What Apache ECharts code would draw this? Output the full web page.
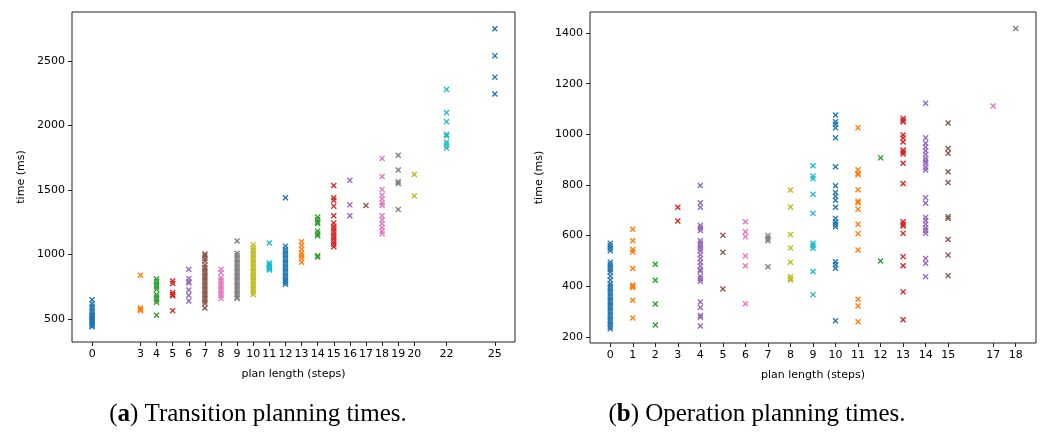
<!DOCTYPE html>
<html>
<head>
<meta charset="utf-8">
<script src="https://cdn.jsdelivr.net/npm/echarts@6/dist/echarts.min.js"></script>
<style>
  html, body { margin: 0; padding: 0; background: #fff; }
  #chart { width: 1042px; height: 432px; }
</style>
</head>
<body>
<div id="chart"></div>
<script>
// plot (a): transition planning
const transLengths = [0, 3, 4, 5, 6, 7, 8, 9, 10, 11, 12, 13, 14, 15, 16, 17, 18, 19, 20, 22, 25]
const transTimes = [
  [650, 620, 600, 580, 560, 540, 530, 520, 510, 500, 490, 480, 470, 460, 450, 440],
  [840, 585, 575, 565],
  [810, 790, 770, 750, 730, 690, 670, 650, 630, 530],
  [795, 775, 705, 690, 680, 565],
  [885, 815, 790, 780, 725, 685, 640],
  [1005, 990, 970, 950, 920, 900, 880, 860, 840, 820, 800, 780, 760, 740, 720, 700, 680, 660, 640, 620, 585],
  [885, 860, 820, 800, 780, 760, 740, 720, 700, 680, 660],
  [1105, 1010, 990, 970, 950, 930, 910, 890, 870, 850, 830, 810, 790, 770, 750, 730, 710, 690, 670, 660],
  [1075, 1050, 1030, 1010, 990, 970, 950, 930, 910, 890, 870, 850, 830, 810, 790, 770, 750, 730, 710, 690],
  [1090, 935, 920, 910, 900, 890, 880],
  [1440, 1065, 1040, 1020, 1000, 980, 960, 940, 920, 900, 880, 860, 840, 820, 800, 785, 770],
  [1100, 1070, 1040, 1010, 990, 970, 940],
  [1290, 1270, 1250, 1240, 1180, 1160, 1145, 990, 980],
  [1535, 1440, 1420, 1375, 1300, 1245, 1220, 1200, 1180, 1160, 1140, 1120, 1100, 1080, 1060],
  [1575, 1385, 1300],
  [1380],
  [1745, 1605, 1505, 1460, 1430, 1400, 1380, 1300, 1270, 1240, 1210, 1180, 1160],
  [1770, 1655, 1565, 1550, 1350],
  [1620, 1455],
  [2280, 2100, 2030, 1930, 1920, 1870, 1850, 1825],
  [2750, 2540, 2375, 2245]
]
const transYTicks = [500, 1000, 1500, 2000, 2500]

// plot (b): operation planning
const opLengths = [0, 1, 2, 3, 4, 5, 6, 7, 8, 9, 10, 11, 12, 13, 14, 15, 17, 18]
const opTimes = [
  [570, 560, 550, 540, 495, 485, 475, 465, 455, 440, 425, 410, 400, 390, 380, 370, 360, 350, 340, 330, 320, 310, 300, 290, 280, 270, 260, 250, 240, 232],
  [625, 580, 545, 535, 470, 405, 400, 395, 345, 275],
  [487, 424, 330, 247],
  [712, 658],
  [798, 730, 712, 640, 630, 620, 580, 570, 560, 550, 540, 525, 510, 495, 480, 465, 460, 440, 430, 420, 338, 316, 285, 278, 243],
  [601, 534, 389],
  [655, 615, 596, 520, 481, 331],
  [600, 590, 580, 477],
  [780, 713, 604, 551, 495, 438, 430, 425],
  [876, 835, 825, 763, 688, 570, 560, 550, 458, 367],
  [1076, 1050, 1040, 1026, 986, 872, 797, 770, 755, 740, 712, 668, 655, 645, 635, 497, 485, 471, 264],
  [1026, 860, 845, 840, 781, 736, 730, 704, 645, 608, 543, 349, 322, 260],
  [907, 500],
  [1063, 1055, 1049, 997, 985, 970, 938, 930, 922, 886, 806, 655, 645, 638, 609, 517, 481, 378, 268],
  [1123, 986, 965, 950, 935, 920, 905, 895, 885, 870, 859, 750, 728, 672, 660, 645, 630, 620, 609, 510, 491, 438],
  [1045, 944, 925, 852, 810, 675, 668, 585, 523, 442],
  [1112],
  [1418]
]
const opYTicks = [200, 400, 600, 800, 1000, 1200, 1400]

const tab10 = ['#1f77b4', '#ff7f0e', '#2ca02c', '#d62728', '#9467bd', '#8c564b', '#e377c2', '#7f7f7f', '#bcbd22', '#17becf']
// thick "x" marker like matplotlib's marker='x'
const cross = 'path://M0,1.6L1.6,0L5,3.4L8.4,0L10,1.6L6.6,5L10,8.4L8.4,10L5,6.6L1.6,10L0,8.4L3.4,5Z'
const labelFont = 'DejaVu Sans'

const makeSeries = (lengths, times, idx) => lengths.map((len, i) => ({
  type: 'scatter',
  xAxisIndex: idx,
  yAxisIndex: idx,
  symbol: cross,
  symbolSize: 6,
  itemStyle: { color: tab10[i % 10], opacity: 1 },
  silent: true,
  data: times[i].map(t => [len, t])
}))

const xAxisOf = (idx, min, max, ticks) => ({
  type: 'value',
  gridIndex: idx,
  min: min,
  max: max,
  name: 'plan length (steps)',
  nameLocation: 'middle',
  nameGap: 27,
  nameTextStyle: { fontFamily: labelFont, fontSize: 11, color: '#000' },
  axisLine: { show: false, onZero: false },
  axisTick: { show: true, length: 4, customValues: ticks, lineStyle: { color: '#222' } },
  axisLabel: { customValues: ticks, margin: 7, fontFamily: labelFont, fontSize: 11, color: '#000', formatter: v => String(v) },
  splitLine: { show: false }
})

const yAxisOf = (idx, min, max, ticks, gap) => ({
  type: 'value',
  gridIndex: idx,
  min: min,
  max: max,
  name: 'time (ms)',
  nameLocation: 'middle',
  nameGap: gap,
  nameTextStyle: { fontFamily: labelFont, fontSize: 11, color: '#000' },
  axisLine: { show: false, onZero: false },
  axisTick: { show: true, length: 4, customValues: ticks, lineStyle: { color: '#222' } },
  axisLabel: { customValues: ticks, margin: 7, fontFamily: labelFont, fontSize: 11, color: '#000', formatter: v => String(v) },
  splitLine: { show: false }
})

const chart = echarts.init(document.getElementById('chart'), null, { renderer: 'canvas' })
const captionStyle = {
  fontFamily: 'Liberation Serif',
  fontSize: 25,
  fontWeight: 'normal',
  color: '#000',
  rich: {
    b: { fontFamily: 'Liberation Serif', fontSize: 25, fontWeight: 'bold', color: '#000' }
  }
}
chart.setOption({
  animation: false,
  backgroundColor: '#fff',
  title: [
    { text: '({b|a}) Transition planning times.', left: 253, top: 397, textAlign: 'center', textStyle: captionStyle },
    { text: '({b|b}) Operation planning times.', left: 752, top: 397, textAlign: 'center', textStyle: captionStyle }
  ],
  grid: [
    { left: 72, right: 527, top: 12, bottom: 90, show: true, borderColor: '#222', borderWidth: 1 },
    { left: 590, right: 6, top: 12, bottom: 89, show: true, borderColor: '#222', borderWidth: 1 }
  ],
  xAxis: [
    xAxisOf(0, -1.25, 26.25, transLengths),
    xAxisOf(1, -0.9, 18.9, opLengths)
  ],
  yAxis: [
    yAxisOf(0, 322, 2880, transYTicks, 45),
    yAxisOf(1, 176, 1483, opYTicks, 45)
  ],
  series: makeSeries(transLengths, transTimes, 0).concat(makeSeries(opLengths, opTimes, 1))
})
</script>
</body>
</html>
